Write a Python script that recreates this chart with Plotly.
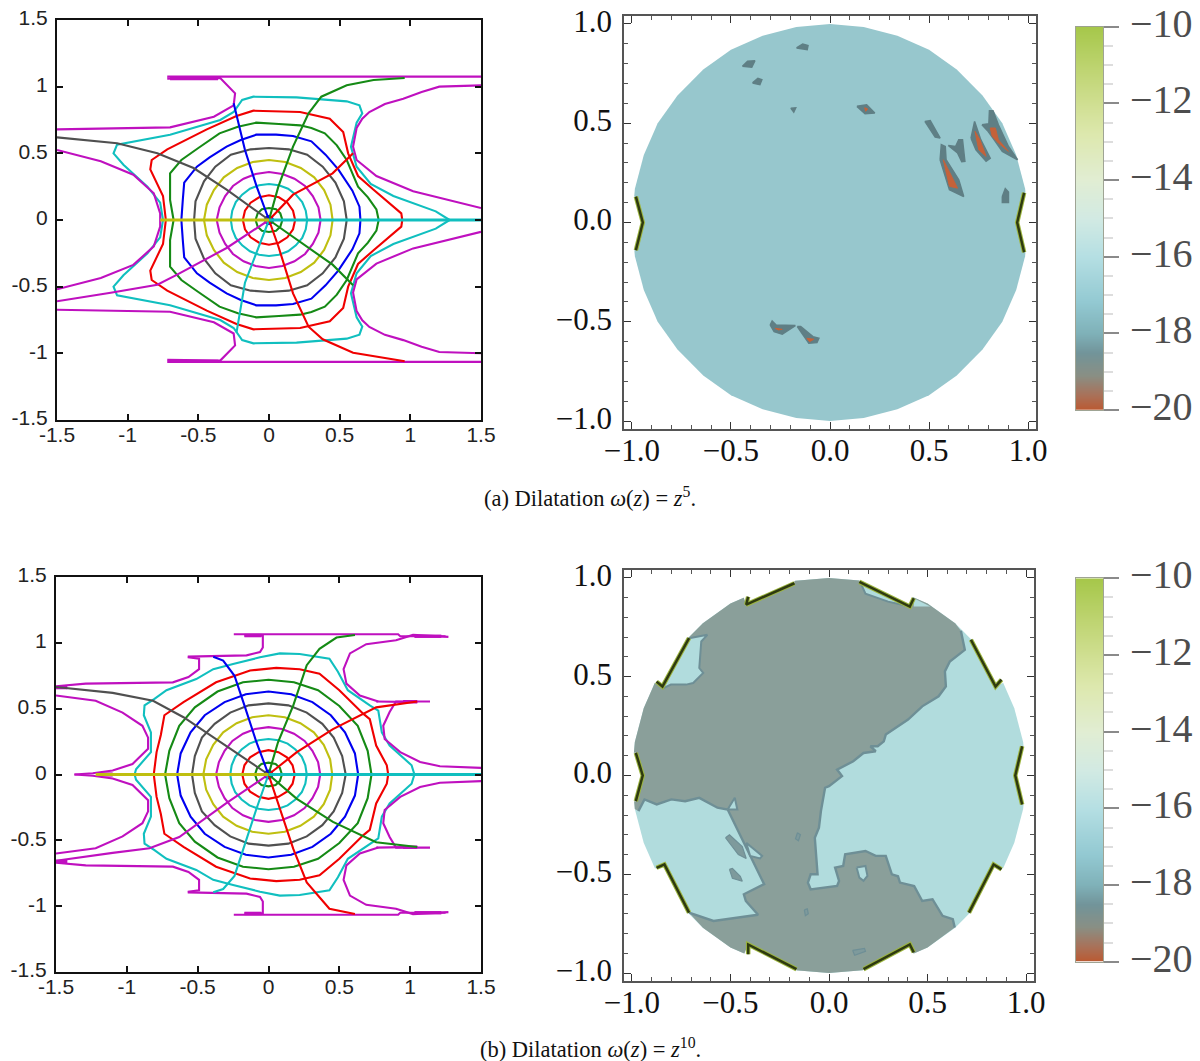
import plotly.graph_objects as go

W, H = 1200, 1061
BLUE, GREEN, RED, CYAN, MAG, YEL, GRAY = "#0000F0", "#158A15", "#F00000", "#10BFBF", "#BF10BF", "#BFBF10", "#505050"

# ---------- shared inner rings (upper half, mirrored below) ----------
r1_x = [.03, .02, 0, -.02, -.03]
r1_y = [0, .02, .03, .02, 0]
r2_x = [.095, .08, .05, 0, -.05, -.08, -.095]
r2_y = [0, .05, .08, .09, .08, .05, 0]
r3_x = [.185, .17, .13, .07, 0, -.07, -.13, -.17, -.185]
r3_y = [0, .07, .13, .17, .185, .17, .13, .07, 0]
r4_x = [.27, .26, .235, .19, .135, .07, 0, -.07, -.135, -.19, -.235, -.26, -.27]
r4_y = [0, .07, .135, .19, .235, .26, .27, .26, .235, .19, .135, .07, 0]
r5_x = [.365, .35, .31, .255, .18, .095, 0, -.095, -.18, -.255, -.31, -.35, -.37]
r5_y = [0, .095, .18, .255, .31, .345, .36, .345, .31, .255, .18, .095, 0]
r6_x = [.45, .435, .39, .32, .225, .115, 0, -.115, -.225, -.32, -.39, -.44, -.46]
r6_y = [0, .115, .225, .32, .39, .435, .45, .435, .39, .32, .225, .115, 0]
r7_x = [.55, .53, .47, .38, .27, .14, 0, -.13, -.27, -.38, -.46, -.52, -.53]
r7_y = [0, .14, .28, .40, .49, .53, .54, .53, .49, .40, .29, .14, 0]

# ---------- panel (a) left ----------
a8_x = [.647, .64, .59, .49, .40, .30, .17, .05, -.09, -.20, -.30, -.42, -.51, -.60, -.61, -.62]
a8_y = [0, .10, .22, .38, .49, .59, .63, .64, .64, .60, .55, .47, .40, .28, .15, 0]
a9_x = [.776, .76, .70, .63, .59, .55, .48, .395, .30, .22, .07, -.09, -.22, -.35, -.50, -.62, -.70, -.70, -.675]
a9_y = [0, .08, .17, .25, .35, .45, .56, .65, .69, .71, .72, .73, .70, .65, .54, .45, .35, .15, 0]
a10_x = [.943, .936, .736, .63, .56, .525, .43, .22, -.11, -.23, -.44, -.72, -.83, -.84, -.75, -.73]
a10_y = [0, .05, .23, .33, .50, .66, .76, .81, .82, .78, .68, .53, .45, .38, .18, 0]
a11_x = [1.278, 1.18, .88, .72, .62, .58, .62, .66, .64, .55, .195, -.11, -.19, -.25, -.345, -.70, -1.075, -1.10, -1.03, -.86, -.77, -.75]
a11_y = [0, .065, .18, .27, .40, .55, .73, .80, .86, .89, .92, .925, .90, .81, .75, .64, .565, .50, .415, .25, .13, 0]
am1_x = [1.5, 1.02, .76, .62, .595, .62, .66, .71, .82, .95, 1.08, 1.205, 1.5]
am1_y = [.09, .215, .33, .45, .55, .69, .76, .81, .87, .91, .96, 1.0, 1.01]
am2_x = [-1.5, -1.19, -.96, -.815, -.77, -.77]
am2_y = [.525, .44, .34, .20, .05, 0]
am3_x = [-1.5, -.70, -.39, -.25, -.24, -.345, -.72]
am3_y = [.68, .695, .775, .86, .95, 1.065, 1.06]
am4_x = [-.72, 1.5]
am4_y = [1.075, 1.075]
as_red1_x = [0, .17, .45, .595]
as_red1_y = [0, .19, .35, .50]
as_green1_x = [0, .066, .17, .28, .37, .55, .74, .96]
as_green1_y = [0, .25, .55, .80, .925, 1.01, 1.05, 1.065]
as_blue_x = [0, -.087, -.17, -.23, -.25]
as_blue_y = [0, .25, .525, .80, .875]
as_black_x = [0, -.30, -.534, -.79, -1.075, -1.5]
as_black_y = [0, .227, .39, .50, .575, .62]
as_yellow_x = [-.77, 0]
as_yellow_y = [0, 0]
as_mag_x = [0, -.30, -.65, -.79, -1.12, -1.5]
as_mag_y = [0, -.21, -.41, -.485, -.545, -.61]
as_cyan_x = [0, -.087, -.17, -.23]
as_cyan_y = [0, -.247, -.47, -.845]
as_red2_x = [0, .066, .17, .28, .38, .595, .96]
as_red2_y = [0, -.197, -.55, -.80, -.895, -.995, -1.06]
as_green2_x = [0, .45, .595]
as_green2_y = [0, -.335, -.49]
as_right_x = [0, 1.5]
as_right_y = [0, 0]

# ---------- panel (b) left ----------
b7_x = [.545, .52, .46, .38, .27, .14, 0, -.14, -.27, -.38, -.47, -.52, -.54]
b7_y = [0, .14, .28, .385, .47, .525, .54, .525, .47, .385, .28, .14, 0]
b8_x = [.633, .61, .54, .44, .31, .16, 0, -.16, -.31, -.45, -.55, -.62, -.645]
b8_y = [0, .16, .32, .45, .55, .61, .63, .61, .55, .45, .32, .16, 0]
b9_x = [.727, .70, .63, .50, .35, .18, 0, -.18, -.36, -.52, -.63, -.70, -.73]
b9_y = [0, .18, .37, .52, .64, .70, .72, .70, .63, .51, .37, .18, 0]
b10_x = [.845, .835, .76, .715, .67, .50, .36, .22, .055, -.13, -.37, -.60, -.735, -.76, -.79, -.81]
b10_y = [0, .07, .22, .42, .46, .64, .765, .80, .81, .79, .70, .55, .45, .30, .17, 0]
b11_x = [1.03, 1.01, .855, .80, .775, .715, .56, .49, .43, .22, .08, -.06, -.25, -.39, -.51, -.72, -.805, -.875, -.88, -.83, -.83, -.935, -.945]
b11_y = [0, .07, .22, .32, .485, .525, .64, .78, .88, .915, .92, .89, .84, .80, .725, .64, .575, .525, .45, .32, .17, .04, 0]
bmA_x = [1.14, .90, .855, .81, .82, .93, 1.07, 1.21, 1.51]
bmA_y = [.555, .555, .475, .37, .27, .17, .095, .063, .05]
bmB_x = [.76, 1.05]
bmB_y = [.555, .55]
bmC_x = [1.27, 1.02, .90, .69, .575, .53, .55, .645, .775]
bmC_y = [1.045, 1.06, 1.02, .99, .92, .80, .69, .60, .555]
bmD_x = [-.245, .915, .93, 1.25]
bmD_y = [1.065, 1.065, 1.05, 1.05]
bmE_x = [-.17, -.04, -.04, -.06, -.155, -.57]
bmE_y = [1.055, 1.055, .965, .93, .905, .895]
bmF_x = [-.57, -.49, -.49, -.565, -.675, -1.29, -1.5]
bmF_y = [.89, .88, .80, .74, .70, .69, .67]
bmG_x = [-1.5, -1.22, -1.03, -.89, -.85, -.85, -.96, -1.10, -1.24, -1.37]
bmG_y = [.60, .56, .47, .37, .28, .195, .08, .03, .01, 0]
thick_a_x = [[-.70, -.36]]
thick_a_y = [[1.06, 1.06]]
thick_b_x = [[1.03, 1.22], [.95, 1.05], [-.17, -.05], [-1.2, -1.1], [-1.5, -1.42]]
thick_b_y = [[1.05, 1.05], [.553, .553], [1.055, 1.055], [.003, .003], [.66, .66]]
bs_red1_x = [0, .2, .455, .76, 1.05]
bs_red1_y = [0, .17, .345, .51, .555]
bs_green1_x = [0, .067, .175, .27, .36, .48, .61]
bs_green1_y = [0, .245, .525, .83, .955, 1.04, 1.06]
bs_blue_x = [0, -.085, -.17, -.24, -.32, -.39]
bs_blue_y = [0, .245, .525, .75, .865, .895]
bs_black_x = [0, -.30, -.60, -.815, -1.10, -1.5]
bs_black_y = [0, .22, .435, .56, .62, .665]
bs_yellow_x = [-1.22, 0]
bs_yellow_y = [0, 0]
bs_mag_x = [0, -.30, -.63, -.84, -1.1, -1.5]
bs_mag_y = [0, -.22, -.475, -.56, -.595, -.655]
bs_cyan_x = [0, -.085, -.17, -.24, -.32, -.39]
bs_cyan_y = [0, -.26, -.54, -.77, -.87, -.895]
bs_red2_x = [0, .067, .175, .27, .43, .61]
bs_red2_y = [0, -.22, -.565, -.82, -1.02, -1.06]
bs_green2_x = [0, .2, .455, .76, 1.05]
bs_green2_y = [0, -.185, -.36, -.515, -.55]
bs_right_x = [0, 1.5]
bs_right_y = [0, 0]

# ---------- right panels: disc outline (one quadrant, mirrored) ----------
disc_qx = [1.0, .985, .94, .87, .77, .64, .50, .34, .17, 0]
disc_qy = [0, .17, .34, .50, .64, .77, .87, .94, .985, 1.0]

blobs_a_x = [
    [-.169, -.138, -.111, -.115], [-.442, -.416, -.379, -.395], [-.391, -.364, -.344, -.354],
    [-.198, -.173, -.183], [.136, .185, .226, .177], [.479, .506, .556, .531],
    [.597, .634, .650, .669, .681, .665, .644], [.556, .562, .582, .586, .650, .675, .603, .582],
    [.712, .730, .761, .809, .788, .737], [.767, .802, .805, .823, .850, .901, .947, .870, .829, .798],
    [.870, .885, .901, .901, .870], [-.302, -.292, -.272, -.175, -.241, -.282],
    [-.165, -.148, -.086, -.056, -.066, -.107]]
blobs_a_y = [
    [.879, .899, .891, .871], [.787, .812, .815, .782], [.703, .726, .719, .694],
    [.576, .578, .556], [.585, .593, .551, .548], [.509, .513, .425, .43],
    [.388, .383, .417, .417, .308, .306, .35], [.316, .392, .383, .316, .215, .131, .165, .232],
    [.425, .509, .417, .324, .308, .366], [.492, .497, .563, .563, .492, .383, .316, .358, .417, .459],
    [.131, .170, .153, .101, .101], [-.516, -.496, -.516, -.519, -.563, -.55],
    [-.524, -.524, -.575, -.583, -.605, -.608]]
core_a_x = [[.572, .644, .603, .582], [.732, .757, .788, .751], [.809, .835, .850, .901, .850, .819],
            [-.276, -.241, -.261], [-.117, -.082, -.103], [.175, .19, .18]]
core_a_y = [[.316, .173, .182, .266], [.459, .417, .333, .366], [.476, .476, .417, .358, .4, .434],
            [-.533, -.538, -.541], [-.583, -.588, -.6], [.578, .572, .56]]
chev_a_x = [[-.98, -.945, -.98], [.98, .945, .98]]
chev_a_y = [[.13, 0, -.14], [.15, 0, -.15]]
notch_a_x = [[-.98, -.945, -.98, -1.03, -1.03], [.98, .945, .98, 1.03, 1.03]]
notch_a_y = [[.13, 0, -.14, -.14, .13], [.15, 0, -.15, -.15, .15]]

contour_b1_x = [.669, .689, .613, .588, .593, .556, .473, .401, .288, .278, .247, .21, .237, .175, .123, .041, .066, 0, -.02,
                -.041, -.051, -.072, -.058, -.093, -.107, -.093, .041, .051, .031, .072, .082, .185, .237, .288, .319, .35, .36,
                .432, .473, .525, .576, .628, .638]
contour_b1_y = [.732, .636, .577, .527, .451, .401, .350, .283, .207, .173, .148, .148, .123, .114, .072, .030, -.003, -.054, -.062,
                -.18, -.264, -.315, -.5, -.5, -.542, -.576, -.559, -.534, -.466, -.458, -.399, -.382, -.407, -.407, -.5, -.51, -.542,
                -.559, -.635, -.626, -.71, -.727, -.769]
contour_b2_x = [-.71, -.586, -.36, -.422, -.432, -.329, -.514, -.566, -.658, -.73, -.80, -.874, -.936, -.967]
contour_b2_y = [-.694, -.736, -.705, -.635, -.601, -.55, -.172, -.163, -.113, -.13, -.121, -.146, -.121, -.18]
arc_b_bottom_x = [.50, .34, .17, 0, -.17, -.34, -.50, -.64]
arc_b_bottom_y = [-.87, -.94, -.985, -1.0, -.985, -.94, -.87, -.77]
arc_b_top_x = [-.985, -1.0, -.985, -.94, -.87, -.77, -.64, -.50, -.34, -.17, 0, .17, .34, .50, .64]
arc_b_top_y = [-.17, 0, .17, .34, .50, .64, .77, .87, .94, .985, 1.0, .985, .94, .87, .77]
holes_b_x = [[-.71, -.617, -.648, -.658, -.638, -.689, -.725, -.802, -.845],
             [.16, .185, .30, .41, .32],
             [-.514, -.478, -.465],
             [-.42, -.339, -.35, -.40],
             [.14, .185, .195, .175, .154]]
holes_b_y = [[.695, .712, .678, .544, .519, .468, .46, .46, .44],
             [.975, .92, .88, .855, .925],
             [-.172, -.113, -.172],
             [-.34, -.407, -.42, -.407],
             [-.466, -.458, -.508, -.533, -.517]]
light_slice_x = [.43, .514, .43]
light_slice_y = [.897, .855, .855]
specks_b_x = [[-.16, -.145, -.155, -.17], [-.125, -.11, -.105, -.12], [.12, .18, .185, .13],
              [-.505, -.49, -.45, -.44, -.49],
              [-.525, -.505, -.44, -.42, -.46, -.49]]
specks_b_y = [[-.29, -.30, -.33, -.32], [-.68, -.675, -.70, -.71], [-.885, -.875, -.89, -.91],
              [-.475, -.47, -.51, -.535, -.52],
              [-.315, -.30, -.36, -.42, -.40, -.36]]
chev_b_x = [[-.41, -.42, -.175], [.154, .41, .43], [-.71, -.845, -.875], [.72, .845, .875],
            [-.875, -.835, -.71], [.875, .835, .71], [-.41, -.41, -.165], [.175, .41, .43],
            [-.98, -.945, -.98], [.98, .945, .98]]
chev_b_y = [[.905, .865, .973], [.98, .855, .897], [.695, .45, .475], [.687, .45, .485],
            [-.467, -.45, -.694], [-.475, -.45, -.694], [-.905, -.855, -.98], [-.98, -.855, -.895],
            [.115, 0, -.13], [.148, 0, -.147]]
notch_b_x = [[-.42, -.175, -.18, -.45], [.154, .41, .44, .16], [-.71, -.845, -.95, -.78], [.72, .845, .95, .78],
             [-.835, -.71, -.78, -.95], [.835, .71, .78, .95], [-.41, -.165, -.17, -.45], [.175, .41, .45, .18],
             [-.98, -.945, -.98, -1.03, -1.03], [.98, .945, .98, 1.03, 1.03]]
notch_b_y = [[.865, .973, 1.03, .95], [.98, .855, .95, 1.03], [.695, .45, .5, .74], [.687, .45, .5, .74],
             [-.45, -.694, -.74, -.5], [-.45, -.694, -.74, -.5], [-.855, -.98, -1.03, -.95], [-.98, -.855, -.95, -1.03],
             [.115, 0, -.13, -.13, .115], [.148, 0, -.147, -.147, .148]]

# ---------- colour bars ----------
cb_levels = [-20, -19.5, -19, -18.5, -18, -17.5, -17, -16.5, -16, -15.5, -15, -14.5, -14, -13.5, -13, -12.5, -12, -11.5, -11, -10.5, -10]
cb_ticks = [-20, -18, -16, -14, -12, -10]
cb_labels = ["−20", "−18", "−16", "−14", "−12", "−10"]
left_ticks = [-1.5, -1, -0.5, 0, 0.5, 1, 1.5]
left_labels = ["-1.5", "-1", "-0.5", "0", "0.5", "1", "1.5"]
right_ticks = [-1.0, -0.5, 0.0, 0.5, 1.0]
right_labels = ["−1.0", "−0.5", "0.0", "0.5", "1.0"]
cap_a = "(a) Dilatation <i>ω</i>(<i>z</i>) = <i>z</i><sup>5</sup>."
cap_b = "(b) Dilatation <i>ω</i>(<i>z</i>) = <i>z</i><sup>10</sup>."

SCALE = [[0, "#BB5A32"], [.04, "#A9725A"], [.09, "#8A8F84"], [.15, "#72949A"], [.2, "#7FB1B8"], [.28, "#93C9D2"], [.4, "#B5DFE3"],
         [.5, "#D2EAE3"], [.6, "#E1EDD3"], [.72, "#DDE8AE"], [.8, "#D0DF92"], [.9, "#BCD36E"], [1, "#A6C74A"]]


def closed(xs, ys):
    return xs + xs[::-1], ys + [-v for v in ys[::-1]]


def disc_path():
    x = disc_qx + [-v for v in disc_qx[-2::-1]]
    y = disc_qy + disc_qy[-2::-1]
    x2 = x + x[-2::-1]
    y2 = y + [-v for v in y[-2::-1]]
    return x2, y2


def flat(lists):
    out = []
    for part in lists:
        out += part + [part[0], None]
    return out


fig = go.Figure()


def line(ax, x, y, c, w=2.1):
    fig.add_trace(go.Scatter(x=x, y=y, mode="lines", line=dict(color=c, width=w), xaxis=f"x{ax}", yaxis=f"y{ax}",
                             showlegend=False, hoverinfo="skip"))


def fill(ax, x, y, c, lc=None, w=0):
    fig.add_trace(go.Scatter(x=x, y=y, mode="lines", fill="toself", fillcolor=c,
                             line=dict(color=lc or c, width=w), xaxis=f"x{ax}", yaxis=f"y{ax}",
                             showlegend=False, hoverinfo="skip"))


inner = [(r1_x, r1_y, BLUE), (r2_x, r2_y, GREEN), (r3_x, r3_y, RED), (r4_x, r4_y, CYAN), (r5_x, r5_y, MAG), (r6_x, r6_y, YEL)]

# panel (a), left
for rx, ry, c in inner + [(r7_x, r7_y, GRAY), (a8_x, a8_y, BLUE), (a9_x, a9_y, GREEN), (a10_x, a10_y, RED), (a11_x, a11_y, CYAN)]:
    line(1, *closed(rx, ry), c)
for mx, my in [(am1_x, am1_y), (am2_x, am2_y), (am3_x, am3_y), (am4_x, am4_y)]:
    line(1, mx, my, MAG)
    line(1, mx, [-v * .99 for v in my], MAG)
for tx, ty in zip(thick_a_x, thick_a_y):
    line(1, tx, ty, MAG, 3.4)
    line(1, tx, [-v for v in ty], MAG, 3.4)
for sx, sy, c in [(as_red1_x, as_red1_y, RED), (as_green1_x, as_green1_y, GREEN),
                  (as_blue_x, as_blue_y, BLUE), (as_black_x, as_black_y, GRAY),
                  (as_mag_x, as_mag_y, MAG), (as_cyan_x, as_cyan_y, CYAN), (as_red2_x, as_red2_y, RED),
                  (as_green2_x, as_green2_y, GREEN)]:
    line(1, sx, sy, c)
line(1, as_right_x, as_right_y, CYAN, 3)
line(1, as_yellow_x, as_yellow_y, YEL, 3)

# panel (b), left
for rx, ry, c in inner + [(b7_x, b7_y, GRAY), (b8_x, b8_y, BLUE), (b9_x, b9_y, GREEN), (b10_x, b10_y, RED), (b11_x, b11_y, CYAN)]:
    line(3, *closed(rx, ry), c)
for mx, my in [(bmA_x, bmA_y), (bmB_x, bmB_y), (bmC_x, bmC_y), (bmD_x, bmD_y), (bmE_x, bmE_y), (bmF_x, bmF_y), (bmG_x, bmG_y)]:
    line(3, mx, my, MAG)
    line(3, mx, [-v for v in my], MAG)
for tx, ty in zip(thick_b_x, thick_b_y):
    line(3, tx, ty, MAG, 3.4)
    line(3, tx, [-v for v in ty], MAG, 3.4)
for sx, sy, c in [(bs_red1_x, bs_red1_y, RED), (bs_green1_x, bs_green1_y, GREEN),
                  (bs_blue_x, bs_blue_y, BLUE), (bs_black_x, bs_black_y, GRAY),
                  (bs_mag_x, bs_mag_y, MAG), (bs_cyan_x, bs_cyan_y, CYAN), (bs_red2_x, bs_red2_y, RED),
                  (bs_green2_x, bs_green2_y, GREEN)]:
    line(3, sx, sy, c)
line(3, bs_right_x, bs_right_y, CYAN, 3)
line(3, bs_yellow_x, bs_yellow_y, YEL, 3)

# panel (a), right
dx, dy = disc_path()
fill(2, dx, dy, "#97C7CD")
fill(2, flat(blobs_a_x), flat(blobs_a_y), "#5F7F85", "#5F7F85", 1.5)
fill(2, flat(core_a_x), flat(core_a_y), "#C4623A", "#C4623A", 1)
fill(2, flat(notch_a_x), flat(notch_a_y), "white")
for cx, cy in zip(chev_a_x, chev_a_y):
    line(2, cx, cy, "#9DB63F", 4.5)
    line(2, cx, cy, "#2E3A10", 2.5)

# panel (b), right
fill(4, dx, dy, "#B1DCDD")
gray_x = contour_b1_x + arc_b_bottom_x + contour_b2_x + arc_b_top_x
gray_y = contour_b1_y + arc_b_bottom_y + contour_b2_y + arc_b_top_y
fill(4, gray_x, gray_y, "#8A9F9A")
line(4, contour_b1_x, contour_b1_y, "#6E8F96", 2.4)
line(4, contour_b2_x, contour_b2_y, "#6E8F96", 2.4)
fill(4, flat(holes_b_x), flat(holes_b_y), "#B1DCDD", "#6E8F96", 2)
fill(4, light_slice_x, light_slice_y, "#B1DCDD")
fill(4, flat(specks_b_x), flat(specks_b_y), "#7E9A9C", "#6E8F96", 1.2)
fill(4, flat(notch_b_x), flat(notch_b_y), "white")
for cx, cy in zip(chev_b_x, chev_b_y):
    line(4, cx, cy, "#9DB63F", 4.5)
    line(4, cx, cy, "#2E3A10", 2.5)

# colour bars
for ax in (5, 6):
    fig.add_trace(go.Heatmap(x=[0, 1], y=cb_levels, z=[[v, v] for v in cb_levels], zmin=-20, zmax=-10, colorscale=SCALE,
                             zsmooth="best", showscale=False, xaxis=f"x{ax}", yaxis=f"y{ax}", hoverinfo="skip"))


def dom(a, b, size, flip=False):
    return [1 - b / size, 1 - a / size] if flip else [a / size, b / size]


layout = dict(width=W, height=H, margin=dict(l=0, r=0, t=0, b=0), paper_bgcolor="white", plot_bgcolor="white", showlegend=False)


def left_axes(n, xa, xb, ya, yb):
    s = "" if n == 1 else str(n)
    common = dict(range=[-1.5, 1.5], tickmode="array", tickvals=left_ticks, ticktext=left_labels, ticks="inside", ticklen=6,
                  tickwidth=2, tickcolor="#111", showline=True, linecolor="#111", linewidth=2, mirror="allticks", automargin=False,
                  showgrid=False, zeroline=False, tickfont=dict(family="Liberation Sans", size=21, color="#222"))
    layout["xaxis" + s] = dict(domain=dom(xa, xb, W), anchor="y" + s, ticklabelstandoff=-5, **common)
    layout["yaxis" + s] = dict(domain=dom(ya, yb, H, True), anchor="x" + s, ticklabelstandoff=3, ticklabelshift=-2, **common)


def right_axes(n, xa, xb, ya, yb):
    s = str(n)
    common = dict(range=[-1.04, 1.04], tickmode="array", tickvals=right_ticks, ticktext=right_labels, ticks="inside", ticklen=7,
                  tickwidth=1, tickcolor="#333", showline=True, linecolor="#555", linewidth=1.5, mirror="allticks", automargin=False,
                  showgrid=False, zeroline=False, tickfont=dict(family="Liberation Serif", size=31, color="#111"),
                  minor=dict(dtick=0.1, ticks="inside", ticklen=4, tickcolor="#555", tickwidth=1, showgrid=False))
    layout["xaxis" + s] = dict(domain=dom(xa, xb, W), anchor="y" + s, ticklabelstandoff=-7, **common)
    layout["yaxis" + s] = dict(domain=dom(ya, yb, H, True), anchor="x" + s, ticklabelstandoff=4, ticklabelshift=-3, **common)


def bar_axes(n, ya, yb):
    s = str(n)
    edge = "rgba(80,90,60,0.55)"
    layout["xaxis" + s] = dict(domain=dom(1076, 1103, W), anchor="y" + s, range=[0, 1], showticklabels=False, ticks="",
                               showgrid=False, zeroline=False, showline=True, linecolor=edge, linewidth=1, mirror=True, automargin=False)
    layout["yaxis" + s] = dict(domain=dom(ya, yb, H, True), anchor="x" + s, side="right", range=[-20, -10], tickmode="array",
                               tickvals=cb_ticks, ticktext=cb_labels, ticks="outside", ticklen=15, tickwidth=1.5, automargin=False,
                               tickcolor="#8a8a8a", showgrid=False, zeroline=False, showline=True, linecolor=edge, linewidth=1, mirror=True,
                               ticklabelstandoff=3, ticklabelshift=-4,
                               tickfont=dict(family="Liberation Serif", size=40, color="#4d4d4d"),
                               minor=dict(dtick=0.5, ticks="outside", ticklen=9, tickcolor="#ddd", tickwidth=1.5, showgrid=False))


left_axes(1, 57, 481, 20, 420)
right_axes(2, 624, 1036, 16, 429)
left_axes(3, 56, 481, 577, 972)
right_axes(4, 624, 1034, 570, 981)
bar_axes(5, 26.7, 410)
bar_axes(6, 578.3, 961.7)
cap_font = dict(family="Liberation Serif", size=22.5, color="#111")
layout["annotations"] = [
    dict(text=cap_a, x=590 / W, y=1 - 497 / H, xref="paper", yref="paper", yanchor="middle", showarrow=False, font=cap_font),
    dict(text=cap_b, x=590 / W, y=1 - 1048 / H, xref="paper", yref="paper", yanchor="middle", showarrow=False, font=cap_font),
]
fig.update_layout(**layout)
fig.write_html("out.html", post_script="document.body.style.margin='0';", config={"displayModeBar": False})
